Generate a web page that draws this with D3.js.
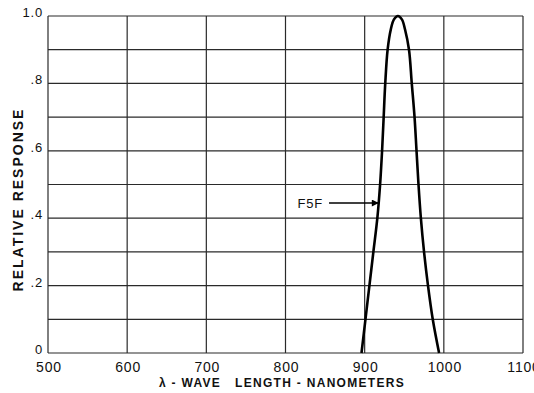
<!DOCTYPE html>
<html>
<head>
<meta charset="utf-8">
<script src="https://cdn.jsdelivr.net/npm/d3@7"></script>
<style>
  body { margin: 0; background: #fff; }
  svg { display: block; font-family: "Liberation Sans", Arial, sans-serif; }
  .grid line { stroke: #2a2a2a; stroke-width: 1.2; }
  .tick-label { fill: #111; font-size: 14px; letter-spacing: 0.8px; }
  .title { fill: #111; font-weight: bold; }
</style>
</head>
<body>
<svg id="chart" width="534" height="393"></svg>
<script>
// wavelength ticks (nm) and response ticks
const xTicks = [500, 600, 700, 800, 900, 1000, 1100];
const yTicks = [0, 0.1, 0.2, 0.3, 0.4, 0.5, 0.6, 0.7, 0.8, 0.9, 1.0];
const yLabels = {0: "0", 0.2: ".2", 0.4: ".4", 0.6: ".6", 0.8: ".8", 1.0: "1.0"};

// F5F response curve
const wavelength = [896, 901, 906, 911, 916, 919.5, 922, 924, 926, 929, 933, 937, 942,
                    947, 951, 956, 959.5, 963, 965.5, 968, 971, 975, 980, 986, 994];
const response   = [0, 0.1, 0.2, 0.3, 0.4, 0.5, 0.6, 0.7, 0.8, 0.9, 0.96, 0.99, 1.0,
                    0.99, 0.96, 0.9, 0.8, 0.7, 0.6, 0.5, 0.4, 0.3, 0.2, 0.1, 0];

const seriesLabel = "F5F";
const labelAt = {from: 855, to: 917, value: 0.445};

const margin = {top: 16, right: 11, bottom: 40, left: 48};
const svg = d3.select("#chart");
const width = +svg.attr("width");
const height = +svg.attr("height");

const x = d3.scaleLinear().domain([500, 1100]).range([margin.left, width - margin.right]);
const y = d3.scaleLinear().domain([0, 1]).range([height - margin.bottom, margin.top]);

// grid
const grid = svg.append("g").attr("class", "grid");
grid.selectAll(".h").data(yTicks).join("line")
  .attr("class", "h")
  .attr("x1", x(500)).attr("x2", x(1100))
  .attr("y1", d => y(d)).attr("y2", d => y(d));
grid.selectAll(".v").data(xTicks).join("line")
  .attr("class", "v")
  .attr("x1", d => x(d)).attr("x2", d => x(d))
  .attr("y1", y(0)).attr("y2", y(1));

// tick labels
svg.selectAll(".xl").data(xTicks).join("text")
  .attr("class", "tick-label")
  .attr("x", d => x(d) + 1).attr("y", y(0) + 19)
  .attr("text-anchor", "middle")
  .text(d => d);

svg.selectAll(".yl").data(yTicks.filter(d => yLabels[d] !== undefined)).join("text")
  .attr("class", "tick-label")
  .attr("x", margin.left - 5).attr("y", d => y(d) + 1)
  .attr("text-anchor", "end")
  .style("font-size", "13px")
  .text(d => yLabels[d]);

// curve
const pts = wavelength.map((w, i) => [w, response[i]]);
svg.append("path")
  .datum(pts)
  .attr("fill", "none")
  .attr("stroke", "#000")
  .attr("stroke-width", 2.6)
  .attr("stroke-linejoin", "round")
  .attr("d", d3.line().x(d => x(d[0])).y(d => y(d[1])).curve(d3.curveCatmullRom.alpha(0.5)));

// label with arrow
svg.append("defs").append("marker")
  .attr("id", "arrow").attr("viewBox", "0 0 10 10")
  .attr("refX", 9).attr("refY", 5)
  .attr("markerWidth", 6).attr("markerHeight", 5)
  .attr("orient", "auto")
  .append("path").attr("d", "M0,0 L10,5 L0,10 z").attr("fill", "#000");

svg.append("line")
  .attr("x1", x(labelAt.from)).attr("x2", x(labelAt.to))
  .attr("y1", y(labelAt.value)).attr("y2", y(labelAt.value))
  .attr("stroke", "#000").attr("stroke-width", 1.4)
  .attr("marker-end", "url(#arrow)");

svg.append("text")
  .attr("class", "tick-label")
  .attr("x", x(labelAt.from) - 6).attr("y", y(labelAt.value) + 5)
  .attr("text-anchor", "end")
  .style("font-size", "13px")
  .text(seriesLabel);

// axis titles
svg.append("text")
  .attr("class", "title")
  .attr("x", 282).attr("y", 387)
  .attr("text-anchor", "middle")
  .attr("xml:space", "preserve")
  .style("font-size", "12px")
  .style("letter-spacing", "1.3px")
  .text("λ - WAVE   LENGTH - NANOMETERS");

svg.append("text")
  .attr("class", "title")
  .attr("transform", `translate(23, ${(y(0) + y(1)) / 2 + 15}) rotate(-90)`)
  .attr("text-anchor", "middle")
  .style("font-size", "14px")
  .style("letter-spacing", "2px")
  .text("RELATIVE RESPONSE");
</script>
</body>
</html>
